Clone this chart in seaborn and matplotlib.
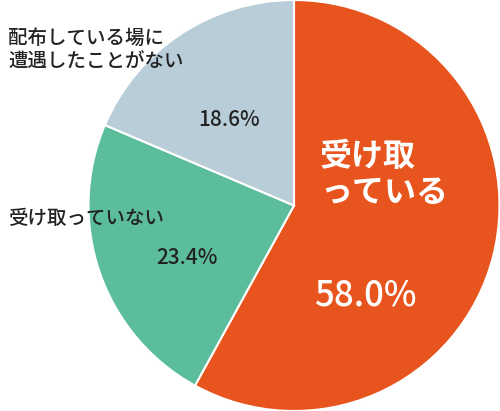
import matplotlib.pyplot as plt
import seaborn as sns

sns.set_theme(style="white")
plt.rcParams['font.family'] = ['Noto Sans CJK JP', 'DejaVu Sans']

labels = ["受け取っている", "受け取っていない", "配布している場に\n遭遇したことがない"]
values = [58.0, 23.4, 18.6]
colors = ["#E8541E", "#5BBD9B", "#B9CDD8"]

fig = plt.figure(figsize=(5, 4.11), dpi=100)
ax = fig.add_axes([(294 - 207) / 500, 0, 414 / 500, 1])
ax.pie(values, colors=colors, startangle=90, counterclock=False,
       wedgeprops=dict(edgecolor="white", linewidth=1.5))
ax.set_aspect("equal")
ax.set_xlim(-1.0, 1.0)
ax.set_ylim(-1.0, 1.0)


def px(x, y):
    return x / 500, 1 - y / 411


fig.text(*px(320, 175), "受け取\nっている", color="white", fontsize=23,
         fontweight="bold", ha="left", va="center", linespacing=1.15)
fig.text(*px(365, 295), f"{values[0]:.1f}%", color="white", fontsize=25,
         fontweight="medium", ha="center", va="center")
fig.text(*px(8, 218), labels[1], color="#222222", fontsize=14, fontweight="medium",
         ha="left", va="center")
fig.text(*px(218, 258), f"{values[1]:.1f}%", color="#222222", fontsize=15,
         fontweight="medium", ha="right", va="center")
fig.text(*px(8, 50), labels[2], color="#222222", fontsize=14, fontweight="medium",
         ha="left", va="center", linespacing=1.3)
fig.text(*px(260, 120), f"{values[2]:.1f}%", color="#222222", fontsize=15,
         fontweight="medium", ha="right", va="center")

fig.savefig("out.png", dpi=100)
